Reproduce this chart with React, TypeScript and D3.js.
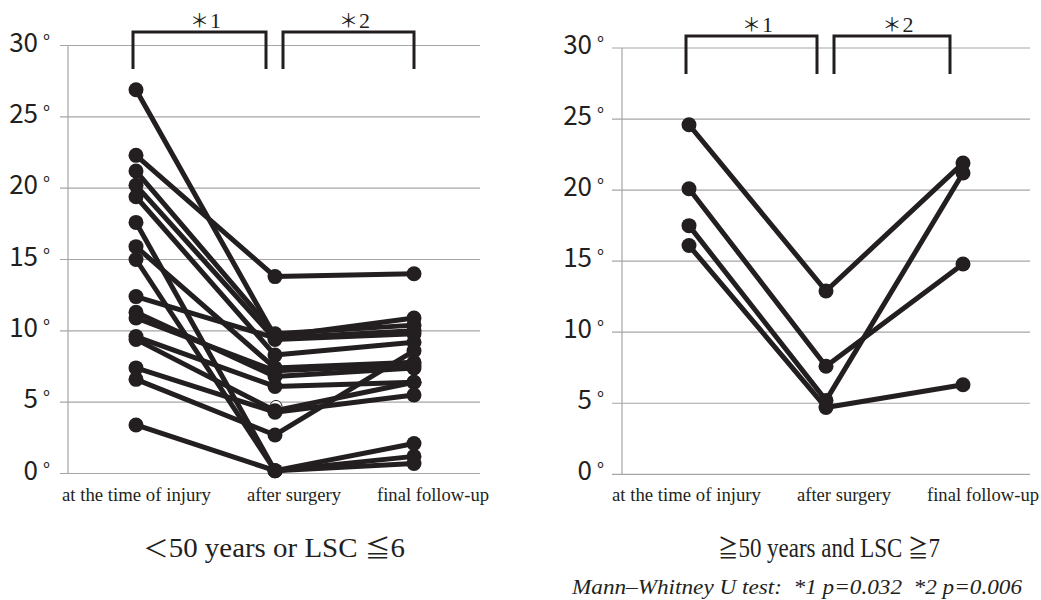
import * as d3 from "d3";
import { useEffect, useRef } from "react";

const stages = ["at the time of injury", "after surgery", "final follow-up"];
const yTicks = [0, 5, 10, 15, 20, 25, 30];

// <50 years or LSC <=6 (one entry per patient)
const youngInjury = [26.9, 22.3, 21.2, 20.2, 19.4, 17.6, 15.9, 15.0, 12.4, 11.3, 10.9, 9.6, 9.4, 7.4, 6.6, 3.4];
const youngSurgery = [9.6, 13.8, 9.8, 9.4, 8.3, 0.2, 7.4, 0.2, 9.5, 6.8, 7.2, 6.1, 4.4, 4.3, 2.7, 0.2];
const youngFinal = [10.9, 14.0, 10.4, 9.8, 9.2, 2.1, 7.8, 1.2, 10.0, 7.4, 7.6, 6.4, 6.4, 5.5, 8.6, 0.7];
const youngOpenSurgery = [4.7];

// >=50 years and LSC >=7
const oldInjury = [24.6, 20.1, 17.5, 16.1];
const oldSurgery = [12.9, 7.6, 5.2, 4.7];
const oldFinal = [21.9, 14.8, 21.2, 6.3];
const oldOpenSurgery: number[] = [];

const bracketLabels = ["1", "2"];
const titles = ["＜50 years or LSC ≦6", "≧50 years and LSC ≧7"];
const footnote = "Mann–Whitney U test:  *1 p=0.032  *2 p=0.006";

const ink = "#231f20";
const grid = "#a6a6a6";
const sans = "'Noto Sans CJK JP', 'Noto Sans', sans-serif";
const cjk = "'Noto Sans CJK JP', sans-serif";
const serif = "'Liberation Serif', 'Times New Roman', serif";
const cjkChars = /[＜≦≧＊]/;

const panels = [
  {
    injury: youngInjury, surgery: youngSurgery, final: youngFinal, open: youngOpenSurgery,
    title: titles[0], axisX: 68, gridX: [60, 480], yRange: [473.5, 45.5],
    xRange: [136, 414], bracketTop: 32, bracketBottom: 69, labelStart: 62,
    titleX: 274, titleWidth: 262, bracketEndInset: 0,
  },
  {
    injury: oldInjury, surgery: oldSurgery, final: oldFinal, open: oldOpenSurgery,
    title: titles[1], axisX: 622, gridX: [612, 1030], yRange: [474.3, 48],
    xRange: [689, 963], bracketTop: 36, bracketBottom: 74, labelStart: 612,
    titleX: 829, titleWidth: 222, bracketEndInset: 13,
  },
];
const labelWidths = [149, 94, 112];
const labelGap = 36;

// split a string into runs so that the symbols get a CJK font and the rest stays serif
function runs(s: string) {
  const out: { text: string; cjk: boolean }[] = [];
  for (const ch of s) {
    const isCjk = cjkChars.test(ch);
    const last = out[out.length - 1];
    if (last && last.cjk === isCjk) last.text += ch;
    else out.push({ text: ch, cjk: isCjk });
  }
  return out;
}

export default function App() {
  const svgRef = useRef<SVGSVGElement | null>(null);

  useEffect(() => {
    if (!svgRef.current) return;
    const svg = d3.select(svgRef.current);
    svg.selectAll("*").remove();

    panels.forEach((panel) => {
      const g = svg.append("g");
      const y = d3.scaleLinear().domain([0, 30]).range(panel.yRange);
      const x = d3.scalePoint<string>().domain(stages).range(panel.xRange);

      // gridlines
      g.selectAll(".grid")
        .data(yTicks)
        .join("line")
        .attr("x1", panel.gridX[0])
        .attr("x2", panel.gridX[1])
        .attr("y1", (d) => y(d))
        .attr("y2", (d) => y(d))
        .attr("stroke", grid)
        .attr("stroke-width", 1.2);

      g.append("line")
        .attr("x1", panel.axisX)
        .attr("x2", panel.axisX)
        .attr("y1", y(30))
        .attr("y2", y(0))
        .attr("stroke", grid)
        .attr("stroke-width", 1.2);

      // y tick labels
      const tickText = g.selectAll(".tick")
        .data(yTicks)
        .join("g")
        .attr("transform", (d) => `translate(0, ${y(d) + 6})`);
      tickText.append("text")
        .attr("x", panel.axisX - 30)
        .attr("text-anchor", "end")
        .attr("fill", ink)
        .style("font-family", sans)
        .style("font-size", "26px")
        .text((d) => d);
      tickText.append("text")
        .attr("x", panel.axisX - 25)
        .attr("y", -3)
        .attr("fill", ink)
        .style("font-family", sans)
        .style("font-size", "19px")
        .text("°");

      // patient lines
      const rows = panel.injury.map((v, i) => [v, panel.surgery[i], panel.final[i]]);
      const line = d3.line<number>()
        .x((_, i) => x(stages[i]) as number)
        .y((d) => y(d));
      g.selectAll(".patient")
        .data(rows)
        .join("path")
        .attr("d", (d) => line(d))
        .attr("fill", "none")
        .attr("stroke", ink)
        .attr("stroke-width", 5)
        .attr("stroke-linejoin", "round");

      const dots = rows.flatMap((r) => r.map((v, i) => ({ stage: stages[i], v })));
      g.selectAll(".open")
        .data(panel.open)
        .join("circle")
        .attr("cx", (x(stages[1]) as number) + 1)
        .attr("cy", (d) => y(d))
        .attr("r", 6)
        .attr("fill", "#fff")
        .attr("stroke", ink)
        .attr("stroke-width", 1);
      g.selectAll(".dot")
        .data(dots)
        .join("circle")
        .attr("cx", (d) => x(d.stage) as number)
        .attr("cy", (d) => y(d.v))
        .attr("r", 7.5)
        .attr("fill", ink);

      // significance brackets
      const spans = [
        [(x(stages[0]) as number) - 3, (x(stages[1]) as number) - 9],
        [(x(stages[1]) as number) + 8, (x(stages[2]) as number) - panel.bracketEndInset],
      ];
      spans.forEach(([x0, x1], i) => {
        g.append("path")
          .attr("d", `M${x0},${panel.bracketBottom}V${panel.bracketTop}H${x1}V${panel.bracketBottom}`)
          .attr("fill", "none")
          .attr("stroke", ink)
          .attr("stroke-width", 3);
        const t = g.append("text")
          .attr("x", (x0 + x1) / 2 + 6)
          .attr("y", panel.bracketTop - 4)
          .attr("text-anchor", "middle")
          .attr("fill", ink);
        t.append("tspan")
          .style("font-family", cjk)
          .style("font-size", "19px")
          .text("＊");
        t.append("tspan")
          .attr("dx", 1)
          .style("font-family", serif)
          .style("font-size", "22px")
          .text(bracketLabels[i]);
      });

      // stage labels, laid out one after another
      let cursor = panel.labelStart;
      stages.forEach((s, i) => {
        g.append("text")
          .attr("x", cursor)
          .attr("y", 501)
          .attr("fill", ink)
          .attr("textLength", labelWidths[i])
          .attr("lengthAdjust", "spacingAndGlyphs")
          .style("font-family", serif)
          .style("font-size", "18px")
          .text(s);
        cursor += labelWidths[i] + labelGap;
      });

      // panel title: each run its own text element, then squeezed to the width
      const titleG = g.append("g");
      let tx = 0;
      runs(panel.title).forEach((r) => {
        const el = titleG.append("text")
          .attr("x", tx)
          .attr("y", 0)
          .attr("fill", ink)
          .attr("font-family", r.cjk ? cjk : serif)
          .style("font-family", r.cjk ? cjk : serif)
          .style("font-size", r.cjk ? "24px" : "27px")
          .style("white-space", "pre")
          .text(r.text);
        tx += (el.node() as SVGTextElement).getComputedTextLength();
      });
      const k = tx > 0 ? panel.titleWidth / tx : 1;
      titleG.attr(
        "transform",
        `translate(${panel.titleX - panel.titleWidth / 2}, 557) scale(${k}, 1)`
      );
    });

    svg.append("text")
      .attr("x", 572)
      .attr("y", 594)
      .attr("fill", ink)
      .attr("textLength", 450)
      .attr("lengthAdjust", "spacingAndGlyphs")
      .style("font-family", serif)
      .style("font-style", "italic")
      .style("font-size", "20px")
      .style("white-space", "pre")
      .text(footnote);
  }, []);

  return (
    <svg
      ref={svgRef}
      width={1041}
      height={600}
      style={{ position: "absolute", left: 0, top: 0, background: "#fff" }}
    />
  );
}
